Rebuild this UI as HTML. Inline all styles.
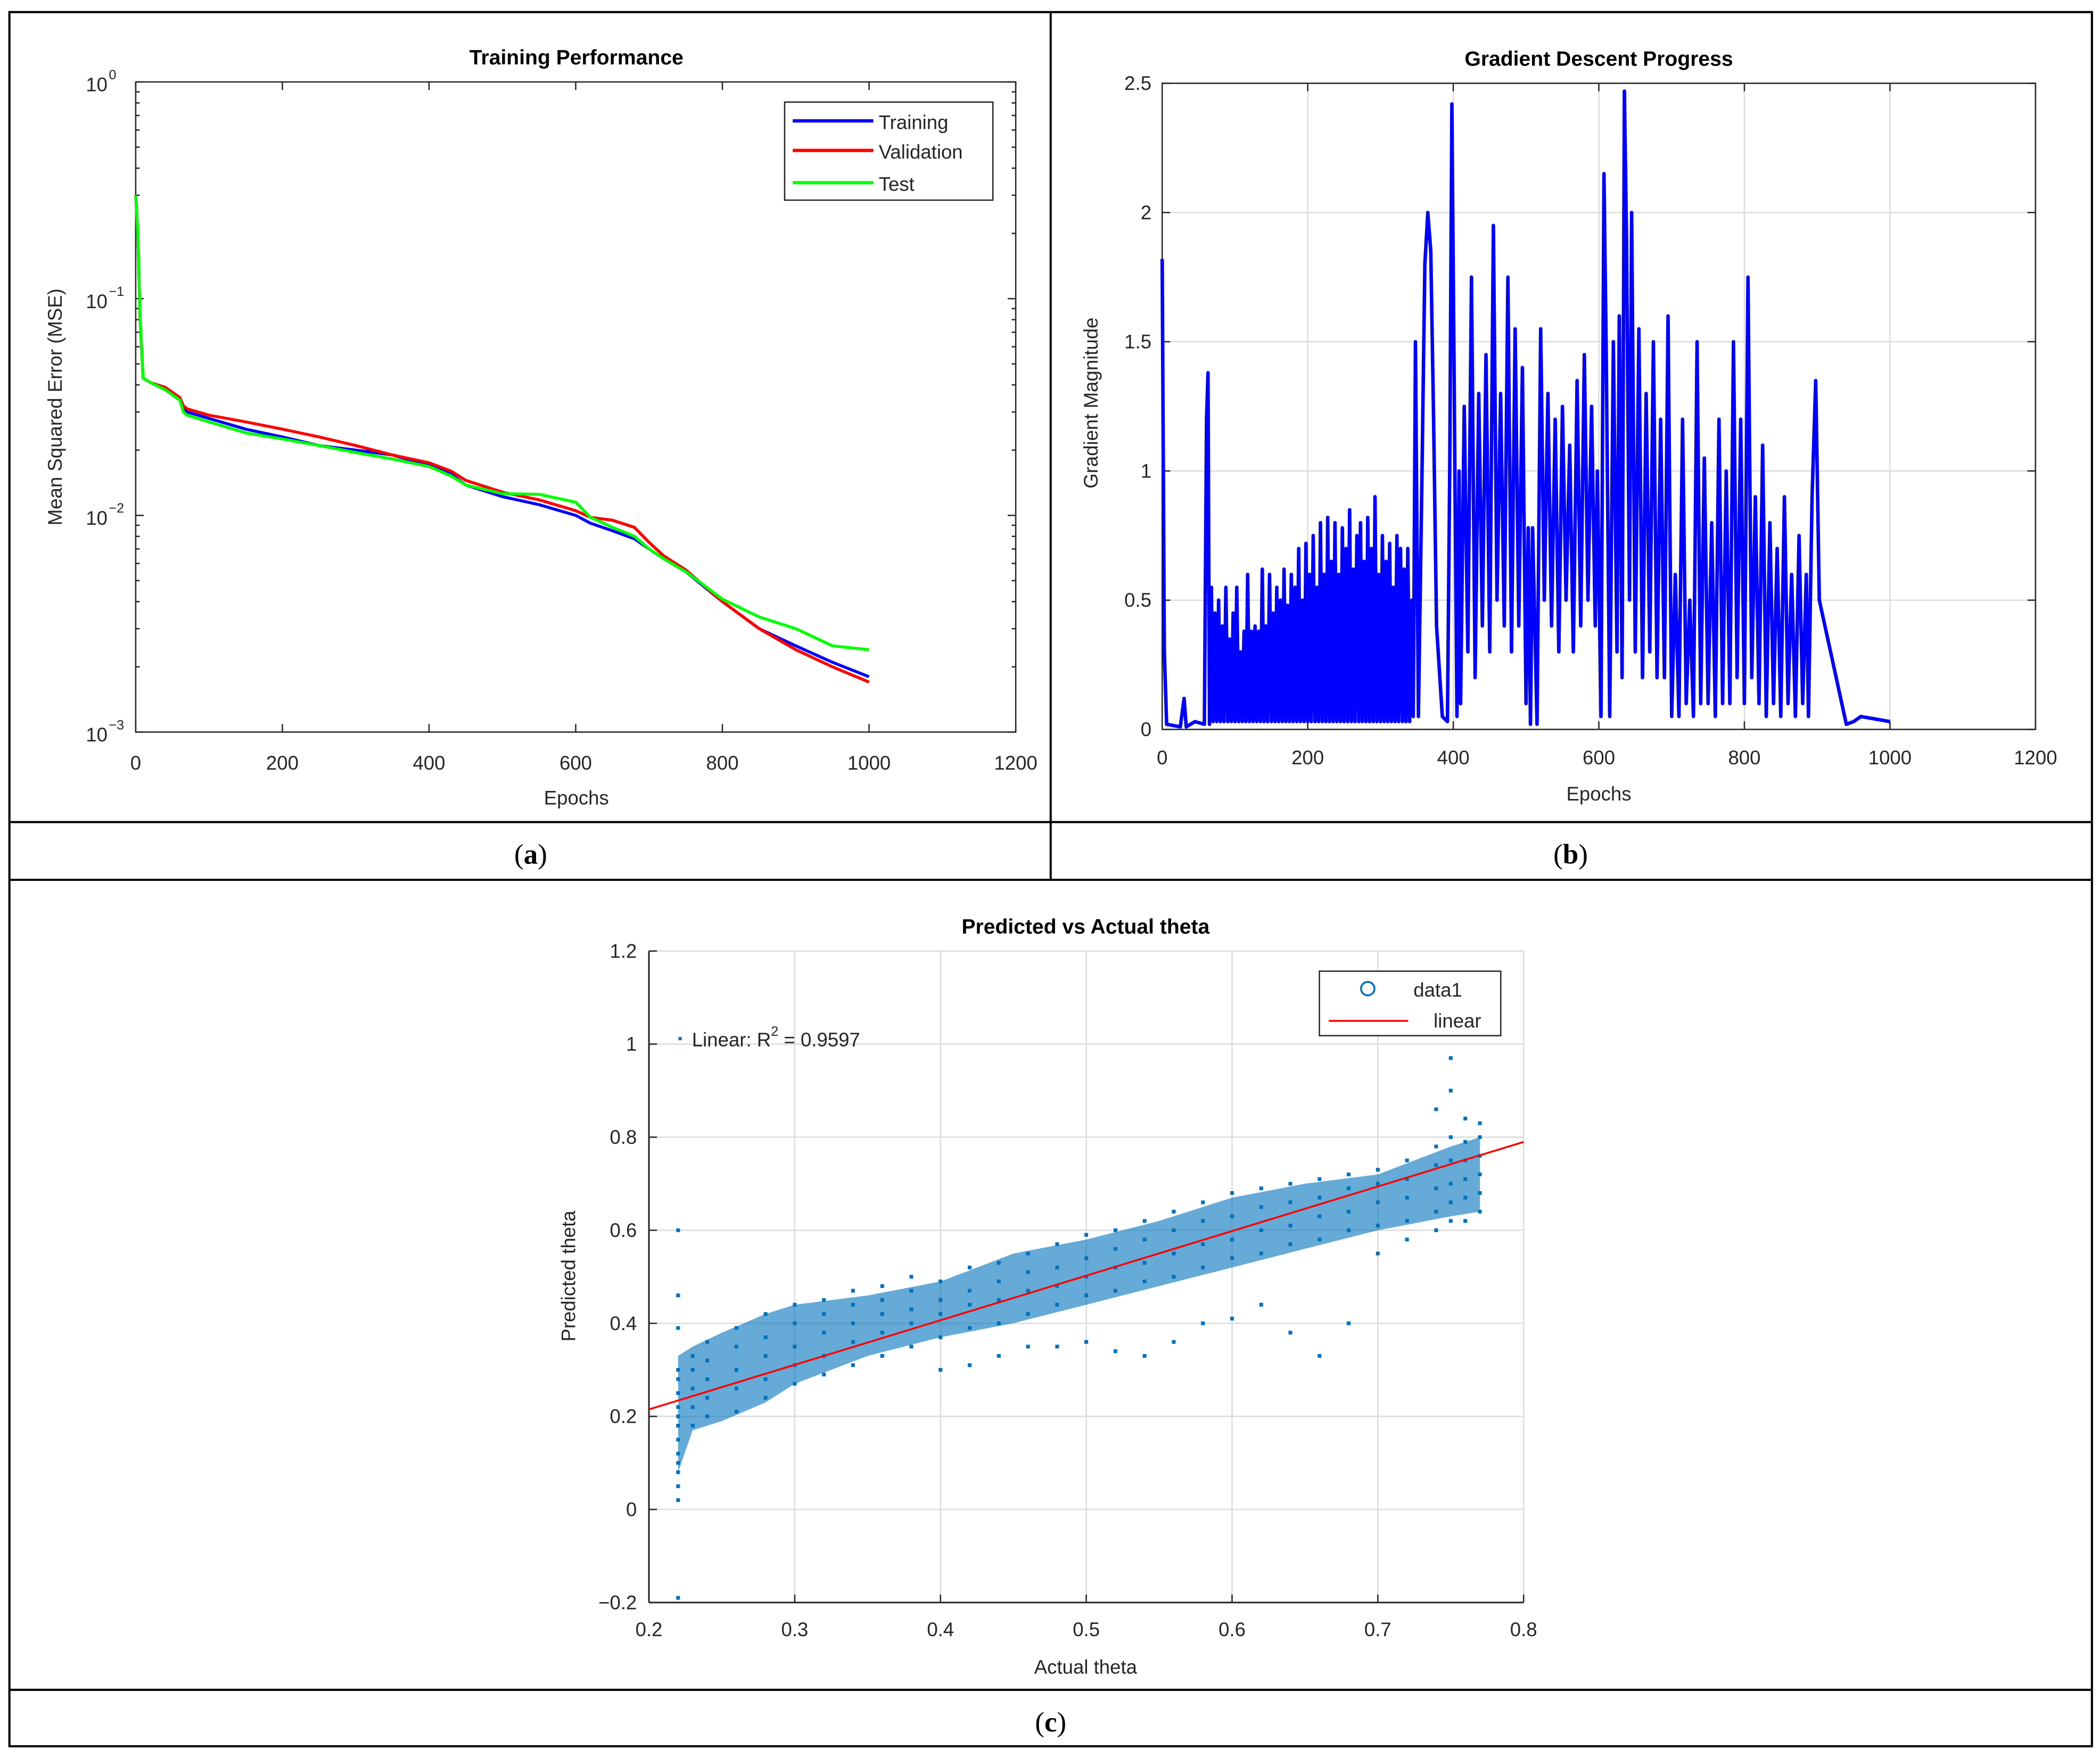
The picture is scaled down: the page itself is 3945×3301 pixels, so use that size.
<!DOCTYPE html>
<html><head><meta charset="utf-8"><style>
html,body{margin:0;padding:0;background:#fff;}
svg{display:block;}
text{font-family:"Liberation Sans",sans-serif;fill:#262626;}
.t{font-size:14.5px;}
.ti{font-size:15.5px;font-weight:bold;fill:#000;}
.cap{font-family:"Liberation Serif",serif;font-size:21px;fill:#000;}
</style></head><body>
<svg id="fig" xmlns="http://www.w3.org/2000/svg" width="3945" height="3301" viewBox="0 0 1563 1308" preserveAspectRatio="none">
<rect x="0" y="0" width="1563" height="1308" fill="#fff"/>
<g stroke="#000" stroke-width="1.6" fill="none">
<rect x="7" y="9" width="1550" height="1291"/>
<line x1="782" y1="9" x2="782" y2="655"/>
<line x1="7" y1="612" x2="1557" y2="612"/>
<line x1="7" y1="655" x2="1557" y2="655"/>
<line x1="7" y1="1258" x2="1557" y2="1258"/>
</g>
<text class="cap" x="395" y="643" text-anchor="middle">(<tspan font-weight="bold">a</tspan>)</text>
<text class="cap" x="1169" y="643" text-anchor="middle">(<tspan font-weight="bold">b</tspan>)</text>
<text class="cap" x="782" y="1289" text-anchor="middle">(<tspan font-weight="bold">c</tspan>)</text>

<g id="pa"></g>
<g id="pb"></g>
<g id="pc"></g>
</svg>
<script>
// ---------- Panel A data ----------
const perfEpochs = [0,3,6,10,20,40,60,65,70,100,150,200,250,300,350,400,430,450,500,550,600,620,650,680,700,720,750,800,850,900,950,1000];
const trainMSE = [0.30,0.20,0.08,0.043,0.041,0.038,0.034,0.031,0.030,0.028,0.025,0.023,0.021,0.020,0.019,0.017,0.0155,0.0138,0.0122,0.0112,0.0100,0.0092,0.0085,0.0078,0.0070,0.0063,0.0055,0.0040,0.0030,0.0025,0.0021,0.0018];
const valMSE = [0.30,0.20,0.08,0.043,0.041,0.039,0.035,0.032,0.031,0.029,0.027,0.025,0.023,0.021,0.019,0.0175,0.016,0.0145,0.0128,0.0118,0.0105,0.0098,0.0095,0.0088,0.0075,0.0065,0.0056,0.0040,0.0030,0.0024,0.0020,0.0017];
const testMSE = [0.30,0.20,0.08,0.043,0.041,0.038,0.034,0.030,0.029,0.027,0.024,0.0225,0.021,0.0195,0.0182,0.0168,0.0152,0.0138,0.0126,0.0125,0.0115,0.0098,0.0088,0.0080,0.0070,0.0063,0.0055,0.0041,0.0034,0.0030,0.0025,0.0024];
const perfXTicks = [0,200,400,600,800,1000,1200];
const perfYExps = [0,-1,-2,-3];

// ---------- Panel B data ----------
const gradEpochs = [0,3,6,25,30,33,45,58,61,63,65,
 67.5,70,72.5,75,77.5,80,82.5,85,87.5,90,92.5,95,97.5,100,102.5,105,107.5,110,112.5,115,117.5,120,122.5,125,127.5,130,132.5,135,137.5,140,142.5,145,147.5,150,152.5,155,157.5,160,162.5,165,167.5,170,172.5,175,177.5,180,182.5,185,187.5,190,192.5,195,197.5,200,202.5,205,207.5,210,212.5,215,217.5,220,222.5,225,227.5,230,232.5,235,237.5,240,242.5,245,247.5,250,252.5,255,257.5,260,262.5,265,267.5,270,272.5,275,277.5,280,282.5,285,287.5,290,292.5,295,297.5,300,302.5,305,307.5,310,312.5,315,317.5,320,322.5,325,327.5,330,332.5,335,337.5,340,343,
 345,348,352,357,361,365,369,373,377,385,392,395,398,
 405,408,410,415,420,425,430,435,440,445,450,455,460,465,470,475,480,485,490,495,500,503,506,509,
 515,520,525,530,535,540,545,550,555,560,565,570,575,580,585,590,595,598,603,607,610,615,620,625,628,632,635,638,642,645,650,655,660,665,670,675,680,685,690,695,
 700,705,710,715,720,725,730,735,740,745,750,755,760,765,770,775,780,785,790,795,800,805,810,815,820,825,830,835,840,845,850,855,860,865,870,875,880,885,888,893,898,903,940,950,960,1000];
const gradValues = [1.82,0.3,0.02,0.01,0.12,0.01,0.03,0.02,1.2,1.38,0.02,
 0.55,0.03,0.45,0.03,0.5,0.03,0.4,0.03,0.55,0.03,0.35,0.03,0.45,0.03,0.55,0.03,0.3,0.03,0.38,0.03,0.6,0.03,0.38,0.03,0.4,0.03,0.38,0.03,0.62,0.03,0.4,0.03,0.6,0.03,0.45,0.03,0.55,0.03,0.5,0.03,0.62,0.03,0.48,0.03,0.6,0.03,0.55,0.03,0.7,0.03,0.5,0.03,0.72,0.03,0.6,0.03,0.75,0.03,0.55,0.03,0.8,0.03,0.6,0.03,0.82,0.03,0.65,0.03,0.8,0.03,0.6,0.03,0.78,0.03,0.7,0.03,0.85,0.03,0.62,0.03,0.75,0.03,0.8,0.03,0.65,0.03,0.82,0.03,0.7,0.03,0.9,0.03,0.6,0.03,0.75,0.03,0.65,0.03,0.72,0.03,0.55,0.03,0.75,0.03,0.7,0.03,0.62,0.03,0.7,0.03,0.5,0.05,
 1.5,0.05,1.0,1.8,2.0,1.85,1.2,0.4,0.05,0.03,1.0,2.42,0.05,
 1.0,0.1,1.25,0.3,1.75,0.2,1.3,0.4,1.45,0.3,1.95,0.5,1.3,0.4,1.75,0.3,1.55,0.4,1.4,0.1,0.78,0.02,0.78,0.02,
 1.55,0.5,1.3,0.4,1.2,0.3,1.25,0.5,1.1,0.3,1.35,0.4,1.45,0.5,1.25,0.4,1.0,0.05,2.15,1.5,0.05,1.5,0.3,1.6,0.2,2.47,1.9,0.5,2.0,0.3,1.55,0.2,1.3,0.3,1.5,0.2,1.2,0.2,1.6,0.05,
 0.6,0.05,1.2,0.1,0.5,0.05,1.5,0.1,1.05,0.1,0.8,0.05,1.2,0.1,1.0,0.1,1.5,0.2,1.2,0.1,1.75,0.2,0.9,0.1,1.1,0.05,0.8,0.1,0.7,0.05,0.9,0.1,0.6,0.05,0.75,0.1,0.6,0.05,0.9,1.35,0.5,0.02,0.03,0.05,0.03,0.02];
const gradXTicks = [0,200,400,600,800,1000,1200];
const gradYTicks = [0,0.5,1,1.5,2,2.5];

// ---------- Panel C data ----------
const actualTheta = [0.22,0.23,0.24,0.26,0.28,0.30,0.32,0.34,0.36,0.38,0.40,0.42,0.44,0.46,0.48,0.50,0.52,0.54,0.56,0.58,0.60,0.62,0.64,0.66,0.68,0.70,0.72,0.74,0.75,0.76,0.77];
const predictedTheta = [
 [0.05,0.1,0.15,0.2,0.25,0.3,0.39,0.46,0.6,-0.19,0.02,0.08,0.12,0.18,0.22,0.28],
 [0.18,0.22,0.26,0.3,0.33],[0.2,0.24,0.28,0.32,0.36],[0.21,0.26,0.3,0.35,0.39],
 [0.24,0.28,0.33,0.37,0.42],[0.27,0.31,0.35,0.4,0.44],[0.29,0.33,0.38,0.42,0.45],
 [0.31,0.36,0.4,0.44,0.47],[0.33,0.38,0.42,0.45,0.48],[0.35,0.4,0.43,0.47,0.5],
 [0.3,0.37,0.42,0.45,0.49],[0.31,0.39,0.44,0.47,0.52],[0.33,0.4,0.45,0.49,0.53],
 [0.35,0.42,0.47,0.51,0.55],[0.35,0.44,0.48,0.52,0.57],[0.36,0.46,0.5,0.54,0.59],
 [0.34,0.47,0.52,0.56,0.6],[0.33,0.49,0.53,0.58,0.62],[0.36,0.5,0.55,0.6,0.64],
 [0.4,0.52,0.57,0.62,0.66],[0.41,0.54,0.58,0.63,0.68],[0.44,0.55,0.6,0.65,0.69],
 [0.38,0.57,0.61,0.66,0.7],[0.33,0.58,0.63,0.67,0.71],[0.4,0.6,0.64,0.69,0.72],
 [0.55,0.61,0.66,0.7,0.73],[0.58,0.62,0.67,0.71,0.75],[0.6,0.64,0.69,0.74,0.78,0.86],
 [0.62,0.66,0.7,0.75,0.8,0.9,0.97],[0.62,0.67,0.71,0.75,0.79,0.84],[0.64,0.68,0.72,0.76,0.8,0.83]];
const envelopeX = [0.22,0.23,0.25,0.28,0.30,0.35,0.40,0.45,0.50,0.55,0.60,0.65,0.70,0.75,0.77];
const envelopeLow = [0.08,0.17,0.19,0.23,0.27,0.33,0.37,0.40,0.44,0.48,0.52,0.56,0.60,0.63,0.64];
const envelopeHigh = [0.33,0.35,0.38,0.42,0.44,0.46,0.49,0.55,0.58,0.62,0.67,0.70,0.72,0.78,0.80];
const fitIntercept = 0.0234, fitSlope = 0.958;
const scXTicks = [0.2,0.3,0.4,0.5,0.6,0.7,0.8];
const scYTicks = [-0.2,0,0.2,0.4,0.6,0.8,1,1.2];

const NS = "http://www.w3.org/2000/svg";
function mk(parent, tag, attrs, txt){
  const e = document.createElementNS(NS, tag);
  for (const k in attrs) e.setAttribute(k, attrs[k]);
  if (txt !== undefined) e.textContent = txt;
  parent.appendChild(e); return e;
}

// ===== Panel A =====
(function(){
  const g = document.getElementById('pa');
  const L=101,R=756,T=61,B=545;
  const xs = e => L + e/1200*(R-L);
  const ys = v => B - (Math.log10(v)+3)/3*(B-T);
  let el = mk(g,'rect',{x:L,y:T,width:R-L,height:B-T,fill:'#fff',stroke:'#262626','stroke-width':1});
   
  perfXTicks.forEach(t=>{
    mk(g,'line',{x1:xs(t),x2:xs(t),y1:B,y2:B-6,stroke:'#262626','stroke-width':1});
    mk(g,'line',{x1:xs(t),x2:xs(t),y1:T,y2:T+6,stroke:'#262626','stroke-width':1});
    el = mk(g,'text',{x:xs(t),y:B+28,class:'t','text-anchor':'middle'},String(t));
     
  });
  perfYExps.forEach(p=>{
    const y = ys(Math.pow(10,p));
    mk(g,'line',{x1:L,x2:L+6,y1:y,y2:y,stroke:'#262626','stroke-width':1});
    mk(g,'line',{x1:R,x2:R-6,y1:y,y2:y,stroke:'#262626','stroke-width':1});
    el = mk(g,'text',{x:L-21,y:y+7,class:'t','text-anchor':'end'},'10');
     
    mk(g,'text',{x:L-20,y:y-2,style:'font-size:10px'}, p===0?'0':'\u2212'+(-p));
    if (p>-3){ for(let m=2;m<10;m++){ const yy=ys(m*Math.pow(10,p-1));
      mk(g,'line',{x1:L,x2:L+3,y1:yy,y2:yy,stroke:'#262626','stroke-width':1});
      mk(g,'line',{x1:R,x2:R-3,y1:yy,y2:yy,stroke:'#262626','stroke-width':1}); } }
  });
  const series = [[trainMSE,'#0000ff','training-line'],[valMSE,'#ff0000','validation-line'],[testMSE,'#00ff00','test-line']];
  series.forEach(s=>{
    const d = perfEpochs.map((e,i)=>(i?'L':'M')+xs(e).toFixed(1)+','+ys(s[0][i]).toFixed(1)).join('');
    el = mk(g,'path',{d:d,fill:'none',stroke:s[1],'stroke-width':2.2,'stroke-linejoin':'round'});
     
  });
  el = mk(g,'text',{x:429,y:48,class:'ti','text-anchor':'middle'},'Training Performance');
   
  el = mk(g,'text',{x:429,y:599,class:'t','text-anchor':'middle'},'Epochs');
   
  el = mk(g,'text',{x:0,y:0,class:'t','text-anchor':'middle',transform:'translate(46,303) rotate(-90)'},'Mean Squared Error (MSE)');
   
  const lg = mk(g,'g',{});
   
  mk(lg,'rect',{x:584,y:76,width:155,height:73,fill:'#fff',stroke:'#262626','stroke-width':1});
  [['Training','#0000ff',91],['Validation','#ff0000',113],['Test','#00ff00',137]].forEach(r=>{
    mk(lg,'line',{x1:590,x2:650,y1:r[2]-1,y2:r[2]-1,stroke:r[1],'stroke-width':2.5});
    el = mk(lg,'text',{x:654,y:r[2]+5,class:'t'},r[0]);
     
  });
})();

// ===== Panel B =====
(function(){
  const g = document.getElementById('pb');
  const L=865,R=1515,T=62,B=543;
  const xs = e => L + e/1200*(R-L);
  const ys = v => B - v/2.5*(B-T);
  let el = mk(g,'rect',{x:L,y:T,width:R-L,height:B-T,fill:'#fff'});
   
  gradXTicks.forEach(t=>{
    mk(g,'line',{x1:xs(t),x2:xs(t),y1:T,y2:B,stroke:'#dcdcdc','stroke-width':1});
    mk(g,'line',{x1:xs(t),x2:xs(t),y1:B,y2:B-6,stroke:'#262626','stroke-width':1});
    mk(g,'line',{x1:xs(t),x2:xs(t),y1:T,y2:T+6,stroke:'#262626','stroke-width':1});
    el = mk(g,'text',{x:xs(t),y:B+26,class:'t','text-anchor':'middle'},String(t));
     
  });
  gradYTicks.forEach(t=>{
    mk(g,'line',{x1:L,x2:R,y1:ys(t),y2:ys(t),stroke:'#dcdcdc','stroke-width':1});
    mk(g,'line',{x1:L,x2:L+6,y1:ys(t),y2:ys(t),stroke:'#262626','stroke-width':1});
    mk(g,'line',{x1:R,x2:R-6,y1:ys(t),y2:ys(t),stroke:'#262626','stroke-width':1});
    el = mk(g,'text',{x:L-8,y:ys(t)+5,class:'t','text-anchor':'end'},String(t));
     
  });
  mk(g,'rect',{x:L,y:T,width:R-L,height:B-T,fill:'none',stroke:'#262626','stroke-width':1});
  const d = gradEpochs.map((e,i)=>(i?'L':'M')+xs(e).toFixed(1)+','+ys(gradValues[i]).toFixed(1)).join('');
  el = mk(g,'path',{d:d,fill:'none',stroke:'#0000ff','stroke-width':2.6,'stroke-linejoin':'round'});
   
  el = mk(g,'text',{x:1190,y:49,class:'ti','text-anchor':'middle'},'Gradient Descent Progress');
   
  el = mk(g,'text',{x:1190,y:596,class:'t','text-anchor':'middle'},'Epochs');
   
  el = mk(g,'text',{x:0,y:0,class:'t','text-anchor':'middle',transform:'translate(817,300) rotate(-90)'},'Gradient Magnitude');
   
})();

// ===== Panel C =====
(function(){
  const g = document.getElementById('pc');
  const L=483,R=1134,T=708,B=1193;
  const xs = v => L + (v-0.2)/0.6*(R-L);
  const ys = v => B - (v+0.2)/1.4*(B-T);
  let el = mk(g,'rect',{x:L,y:T,width:R-L,height:B-T,fill:'#fff'});
   
  scXTicks.forEach(t=>{
    mk(g,'line',{x1:xs(t),x2:xs(t),y1:T,y2:B,stroke:'#dcdcdc','stroke-width':1});
    mk(g,'line',{x1:xs(t),x2:xs(t),y1:B,y2:B-6,stroke:'#262626','stroke-width':1});
    el = mk(g,'text',{x:xs(t),y:B+25,class:'t','text-anchor':'middle'},String(t));
     
  });
  scYTicks.forEach(t=>{
    mk(g,'line',{x1:L,x2:R,y1:ys(t),y2:ys(t),stroke:'#dcdcdc','stroke-width':1});
    mk(g,'line',{x1:L,x2:L+6,y1:ys(t),y2:ys(t),stroke:'#262626','stroke-width':1});
    el = mk(g,'text',{x:L-9,y:ys(t)+5,class:'t','text-anchor':'end'},t<0?'\u2212'+(-t):String(t));
     
  });
  mk(g,'line',{x1:L,x2:L,y1:T,y2:B,stroke:'#262626','stroke-width':1.2});
  mk(g,'line',{x1:L,x2:R,y1:B,y2:B,stroke:'#262626','stroke-width':1.2});
  let pts = envelopeX.map((x,i)=>xs(x).toFixed(1)+','+ys(envelopeHigh[i]).toFixed(1));
  pts = pts.concat(envelopeX.map((x,i)=>xs(x).toFixed(1)+','+ys(envelopeLow[i]).toFixed(1)).reverse());
  el = mk(g,'polygon',{points:pts.join(' '),fill:'#0072bd','fill-opacity':0.6});
   
  actualTheta.forEach((x,i)=>{
    predictedTheta[i].forEach(y=>{
      const p = mk(g,'rect',{x:xs(x)-1.4,y:ys(y)-1.4,width:2.8,height:2.8,fill:'#0072bd'});
       
    });
  });
  el = mk(g,'line',{x1:xs(0.2),y1:ys(fitIntercept+fitSlope*0.2),x2:xs(0.8),y2:ys(fitIntercept+fitSlope*0.8),stroke:'#ff0000','stroke-width':1.4});
   
  mk(g,'rect',{x:505,y:772,width:2.4,height:2.4,fill:'#0072bd'});
  el = mk(g,'text',{x:515,y:779,class:'t'});
   
  mk(el,'tspan',{},'Linear: R');
  mk(el,'tspan',{dy:'-8',style:'font-size:10px'},'2');
  mk(el,'tspan',{dy:'8'},' = 0.9597');
  el = mk(g,'text',{x:808,y:695,class:'ti','text-anchor':'middle'},'Predicted vs Actual theta');
   
  el = mk(g,'text',{x:808,y:1246,class:'t','text-anchor':'middle'},'Actual theta');
   
  el = mk(g,'text',{x:0,y:0,class:'t','text-anchor':'middle',transform:'translate(428,950) rotate(-90)'},'Predicted theta');
   
  const lg = mk(g,'g',{});
   
  mk(lg,'rect',{x:982,y:723,width:135,height:48,fill:'#fff',stroke:'#262626','stroke-width':1});
  mk(lg,'circle',{cx:1018,cy:736,r:5,fill:'none',stroke:'#0072bd','stroke-width':1.4});
  el = mk(lg,'text',{x:1052,y:742,class:'t'},'data1');
   
  mk(lg,'line',{x1:989,x2:1048,y1:760,y2:760,stroke:'#ff0000','stroke-width':1.4});
  el = mk(lg,'text',{x:1067,y:765,class:'t'},'linear');
   
})();
</script>
</body></html>
